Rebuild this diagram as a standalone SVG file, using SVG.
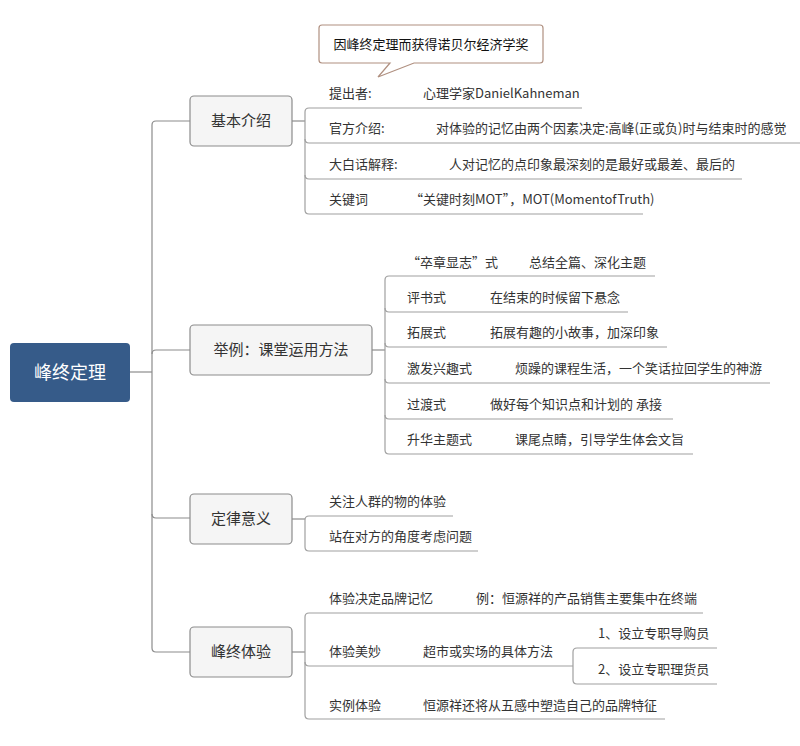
<svg xmlns="http://www.w3.org/2000/svg" width="800" height="746" viewBox="0 0 800 746">
<style>
text{font-family:"Noto Sans CJK SC","Liberation Sans",sans-serif;fill:#333;}
.t{font-size:13px;}
.b{font-size:15px;text-anchor:middle;}
.box{fill:#f5f5f5;stroke:#8c8c8c;stroke-width:1.2;}
.c{fill:none;stroke:#8c8c8c;stroke-width:1.2;}
.u{fill:none;stroke:#a0a0a0;stroke-width:1.2;}
</style>
<rect width="800" height="746" fill="#fff"/>
<g id="connectors">
<path class="c" d="M130,372 H152"/>
<path class="c" d="M190,121 H156 Q152,121 152,125 V648 Q152,652 156,652 H190"/>
<path class="c" d="M152,354 Q152,350 156,350 H190"/>
<path class="c" d="M152,514 Q152,518 156,518 H190"/>
<path class="c" d="M292,121 H305"/>
<path class="c" d="M372,350 H385"/>
<path class="c" d="M292,519 H305"/>
<path class="c" d="M292,652 H305"/>
<path class="u" d="M582,108 H309 Q305,108 305,112 V210 Q305,214 309,214 H643"/>
<path class="u" d="M305,139 Q305,143 309,143 H800"/>
<path class="u" d="M305,175 Q305,179 309,179 H742"/>
<path class="u" d="M655,276 H389 Q385,276 385,280 V450 Q385,454 389,454 H693"/>
<path class="u" d="M385,308 Q385,312 389,312 H628"/>
<path class="u" d="M385,343 Q385,347 389,347 H667"/>
<path class="u" d="M385,379 Q385,383 389,383 H770"/>
<path class="u" d="M385,415 Q385,419 389,419 H673"/>
<path class="u" d="M453,516 H309 Q305,516 305,520 V547 Q305,551 309,551 H478"/>
<path class="u" d="M703,613 H309 Q305,613 305,617 V715 Q305,719 309,719 H665"/>
<path class="u" d="M305,662 Q305,666 309,666 H573"/>
<path class="u" d="M717,648 H577 Q573,648 573,652 V680 Q573,684 577,684 H717"/>
</g>
<g id="callout">
<path d="M322,25 H540 Q543,25 543,28 V60 Q543,63 540,63 H414 L378,77 L390,63 H322 Q319,63 319,60 V28 Q319,25 322,25 Z" fill="#fff" stroke="#b09080" stroke-width="1.2"/>
<text x="431" y="49" style="font-size:13px;fill:#111;text-anchor:middle">因峰终定理而获得诺贝尔经济学奖</text>
</g>
<g id="root">
<rect x="10" y="343" width="120" height="59" rx="4" fill="#365b89"/>
<text x="70" y="379" style="font-size:18px;fill:#fff;text-anchor:middle">峰终定理</text>
</g>
<g id="b1">
<rect class="box" x="190" y="96" width="102" height="50" rx="4"/>
<text class="b" x="241" y="126">基本介绍</text>
</g>
<g id="b2">
<rect class="box" x="190" y="325" width="182" height="50" rx="4"/>
<text class="b" x="281" y="355">举例：课堂运用方法</text>
</g>
<g id="b3">
<rect class="box" x="190" y="494" width="102" height="50" rx="4"/>
<text class="b" x="241" y="524">定律意义</text>
</g>
<g id="b4">
<rect class="box" x="190" y="627" width="102" height="50" rx="4"/>
<text class="b" x="241" y="657">峰终体验</text>
</g>
<g id="b1-items">
<text class="t" x="329" y="98">提出者:</text>
<text class="t" x="423" y="98">心理学家DanielKahneman</text>
<text class="t" x="329" y="133">官方介绍:</text>
<text class="t" x="436" y="133">对体验的记忆由两个因素决定:高峰(正或负)时与结束时的感觉</text>
<text class="t" x="329" y="169">大白话解释:</text>
<text class="t" x="449" y="169">人对记忆的点印象最深刻的是最好或最差、最后的</text>
<text class="t" x="329" y="204">关键词</text>
<text class="t" x="410" y="204">“关键时刻MOT”，MOT(MomentofTruth)</text>
</g>
<g id="b2-items">
<text class="t" x="407" y="267">“卒章显志”式</text>
<text class="t" x="529" y="267">总结全篇、深化主题</text>
<text class="t" x="407" y="302">评书式</text>
<text class="t" x="490" y="302">在结束的时候留下悬念</text>
<text class="t" x="407" y="337">拓展式</text>
<text class="t" x="490" y="337">拓展有趣的小故事，加深印象</text>
<text class="t" x="407" y="373">激发兴趣式</text>
<text class="t" x="515" y="373">烦躁的课程生活，一个笑话拉回学生的神游</text>
<text class="t" x="407" y="409">过渡式</text>
<text class="t" x="490" y="409">做好每个知识点和计划的 承接</text>
<text class="t" x="407" y="444">升华主题式</text>
<text class="t" x="515" y="444">课尾点睛，引导学生体会文旨</text>
</g>
<g id="b3-items">
<text class="t" x="329" y="506">关注人群的物的体验</text>
<text class="t" x="329" y="541">站在对方的角度考虑问题</text>
</g>
<g id="b4-items">
<text class="t" x="329" y="603">体验决定品牌记忆</text>
<text class="t" x="476" y="603">例：恒源祥的产品销售主要集中在终端</text>
<text class="t" x="329" y="656">体验美妙</text>
<text class="t" x="423" y="656">超市或实场的具体方法</text>
<text class="t" x="598" y="638">1、设立专职导购员</text>
<text class="t" x="598" y="674">2、设立专职理货员</text>
<text class="t" x="329" y="710">实例体验</text>
<text class="t" x="423" y="710">恒源祥还将从五感中塑造自己的品牌特征</text>
</g>
</svg>
